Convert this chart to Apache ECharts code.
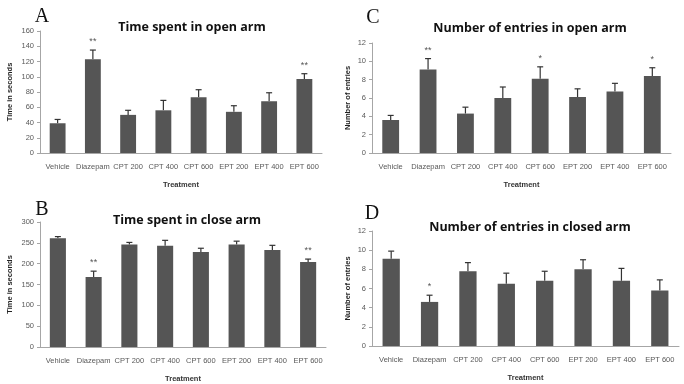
<!DOCTYPE html>
<html>
<head>
<meta charset="utf-8">
<script src="https://cdn.jsdelivr.net/npm/echarts@6/dist/echarts.min.js"></script>
<style>
html,body{margin:0;padding:0;background:#fff;}
#c{width:684px;height:384px;}
</style>
</head>
<body>
<div id="c"></div>
<script>
const categories = ['Vehicle','Diazepam','CPT 200','CPT 400','CPT 600','EPT 200','EPT 400','EPT 600'];

// A: Time spent in open arm (s)
const openTime = [39, 123, 50, 56, 73, 54, 68, 97];
const openTimeErr = [5, 12, 6, 13, 10, 8, 11, 7];
const openTimeSig = ['', '**', '', '', '', '', '', '**'];

// B: Time spent in close arm (s)
const closeTime = [261, 168, 246, 243, 228, 246, 233, 204];
const closeTimeErr = [4, 14, 5, 13, 9, 8, 11, 7];
const closeTimeSig = ['', '**', '', '', '', '', '', '**'];

// C: Number of entries in open arm
const openEntries = [3.6, 9.1, 4.3, 6.0, 8.1, 6.1, 6.7, 8.4];
const openEntriesErr = [0.5, 1.2, 0.7, 1.2, 1.3, 0.9, 0.9, 0.9];
const openEntriesSig = ['', '**', '', '', '*', '', '', '*'];

// D: Number of entries in closed arm
const closedEntries = [9.1, 4.6, 7.8, 6.5, 6.8, 8.0, 6.8, 5.8];
const closedEntriesErr = [0.8, 0.7, 0.9, 1.1, 1.0, 1.0, 1.3, 1.1];
const closedEntriesSig = ['', '*', '', '', '', '', '', ''];

const yTicksA = {min: 0, max: 160, interval: 20};
const yTicksB = {min: 0, max: 300, interval: 50};
const yTicksC = {min: 0, max: 12, interval: 2};
const yTicksD = {min: 0, max: 12, interval: 2};

const BAR = '#555555';
const AXIS = '#a6a6a6';
const TXT = '#595959';

const panels = [
  {title:'Time spent in open arm', letter:'A', yName:'Time in seconds', vals:openTime, err:openTimeErr, sig:openTimeSig, ticks:yTicksA,
   grid:{left:40, top:31, width:282, height:122}, titleX:187, titleY:16, letterX:37, letterY:2, nameGap:26},
  {title:'Number of entries in open arm', letter:'C', yName:'Number of entries', vals:openEntries, err:openEntriesErr, sig:openEntriesSig, ticks:yTicksC,
   grid:{left:372, top:43, width:299, height:110}, titleX:525, titleY:17, letterX:368, letterY:3, nameGap:20},
  {title:'Time spent in close arm', letter:'B', yName:'Time in seconds', vals:closeTime, err:closeTimeErr, sig:closeTimeSig, ticks:yTicksB,
   grid:{left:40, top:222, width:286, height:125}, titleX:182, titleY:209, letterX:37, letterY:195, nameGap:26},
  {title:'Number of entries in closed arm', letter:'D', yName:'Number of entries', vals:closedEntries, err:closedEntriesErr, sig:closedEntriesSig, ticks:yTicksD,
   grid:{left:372, top:231, width:307, height:115}, titleX:525, titleY:216, letterX:367, letterY:199, nameGap:20}
];

const option = {
  backgroundColor:'#ffffff',
  animation:false,
  title:[], grid:[], xAxis:[], yAxis:[], series:[]
};

panels.forEach((p, i) => {
  option.title.push({
    text:p.title, left:p.titleX, top:p.titleY, textAlign:'center',
    textStyle:{fontFamily:'Open Sans', fontWeight:'bold', fontSize:12.5, color:'#111'}
  });
  option.title.push({
    text:p.letter, left:p.letterX, top:p.letterY, textAlign:'center',
    textStyle:{fontFamily:'Liberation Serif', fontWeight:'normal', fontSize:20, color:'#111'}
  });
  option.grid.push(Object.assign({containLabel:false}, p.grid));
  option.xAxis.push({
    type:'category', gridIndex:i, data:categories,
    name:'Treatment', nameLocation:'middle', nameGap:28,
    nameTextStyle:{fontFamily:'Liberation Sans', fontWeight:'bold', fontSize:7.5, color:'#333'},
    axisLine:{lineStyle:{color:AXIS, width:1}},
    axisTick:{show:false},
    axisLabel:{fontFamily:'Liberation Sans', fontSize:7.5, color:TXT, margin:10, interval:0}
  });
  option.yAxis.push({
    type:'value', gridIndex:i, min:p.ticks.min, max:p.ticks.max, interval:p.ticks.interval,
    name:p.yName, nameLocation:'middle', nameGap:p.nameGap, nameRotate:90,
    nameTextStyle:{fontFamily:'Liberation Sans', fontWeight:'bold', fontSize:7.5, color:'#222'},
    axisLine:{show:true, lineStyle:{color:AXIS, width:1}},
    axisTick:{show:true, length:3, lineStyle:{color:AXIS}},
    splitLine:{show:false},
    axisLabel:{fontFamily:'Liberation Sans', fontSize:7.5, color:TXT, margin:6}
  });
  option.series.push({
    type:'bar', xAxisIndex:i, yAxisIndex:i, data:p.vals, barWidth:'45%',
    itemStyle:{color:BAR}, silent:true
  });
  const errData = p.vals.map((v, k) => [k, v, v + p.err[k], p.sig[k]]);
  option.series.push({
    type:'custom', xAxisIndex:i, yAxisIndex:i, data:errData, silent:true,
    encode:{x:0, y:2},
    renderItem:function(params, api){
      const x = api.value(0);
      const base = api.coord([x, api.value(1)]);
      const top = api.coord([x, api.value(2)]);
      const sig = p.sig[params.dataIndex];
      const children = [
        {type:'line', shape:{x1:base[0], y1:base[1], x2:top[0], y2:top[1]}, style:{stroke:'#333', lineWidth:1.2}},
        {type:'line', shape:{x1:top[0]-3, y1:top[1], x2:top[0]+3, y2:top[1]}, style:{stroke:'#333', lineWidth:1.2}}
      ];
      if (sig) {
        children.push({type:'text', x:top[0], y:top[1]-4,
          style:{text:sig, fontFamily:'Liberation Sans', fontSize:9, fill:'#555', align:'center', verticalAlign:'bottom'}});
      }
      return {type:'group', children:children};
    }
  });
});

const chart = echarts.init(document.getElementById('c'), null, {renderer:'canvas'});
chart.setOption(option);
</script>
</body>
</html>
